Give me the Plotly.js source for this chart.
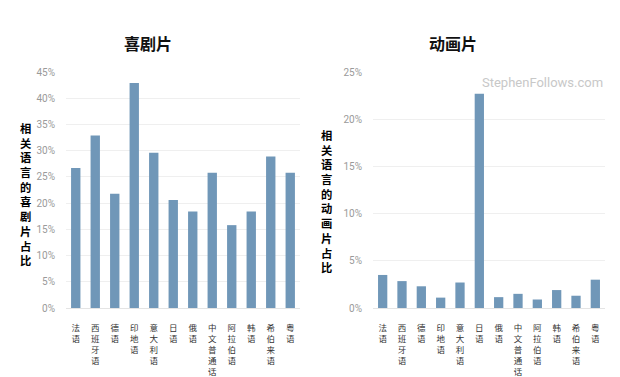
<!DOCTYPE html>
<html>
<head>
<meta charset="utf-8">
<script src="https://cdn.plot.ly/plotly-3.0.1.min.js"></script>
<style>html,body{margin:0;padding:0;background:#fff;}#chart{width:620px;height:377px;}</style>
</head>
<body>
<div id="chart"></div>
<script>
const languages = ["法语","西班牙语","德语","印地语","意大利语","日语","俄语","中文普通话","阿拉伯语","韩语","希伯来语","粤语"];
const comedyShare = [26.7, 32.9, 21.8, 42.9, 29.6, 20.6, 18.4, 25.8, 15.8, 18.4, 28.9, 25.8];
const animationShare = [3.5, 2.85, 2.3, 1.1, 2.7, 22.7, 1.15, 1.5, 0.9, 1.9, 1.3, 3.0];
const comedyTicks = [0,5,10,15,20,25,30,35,40,45];
const animationTicks = [0,5,10,15,20,25];
const leftTitle = "喜剧片";
const rightTitle = "动画片";
const leftYTitle = "相关语言的喜剧片占比";
const rightYTitle = "相关语言的动画片占比";
const watermark = "StephenFollows.com";

const barColor = "#7097b8";
const cjk = "'Noto Sans CJK SC', sans-serif";
const stacked = languages.map(s => s.split("").join("<br>"));
const vertical = s => "<b>" + s.split("").join("<br>") + "</b>";

const traces = [
  {type:"bar", x: languages, y: comedyShare, xaxis:"x", yaxis:"y", marker:{color:barColor}, hoverinfo:"none"},
  {type:"bar", x: languages, y: animationShare, xaxis:"x2", yaxis:"y2", marker:{color:barColor}, hoverinfo:"none"}
];

function xAxis(domain, anchor){
  return {domain: domain, anchor: anchor, tickmode:"array", tickvals: languages, ticktext: stacked,
    tickfont:{family:cjk, size:8.5, color:"#333"}, tickangle:0, showgrid:false, zeroline:false,
    showline:false, ticks:"", ticklabelstandoff:13, fixedrange:true};
}
function yAxis(domain, anchor, ticks, max){
  return {domain: domain, anchor: anchor, range:[0,max], tickmode:"array", tickvals: ticks,
    ticktext: ticks.map(t => t + "%"), tickfont:{family:"Roboto, sans-serif", size:10, color:"#9a9a9a"},
    showgrid:true, gridcolor:"#efefef", gridwidth:1, zeroline:true, zerolinecolor:"#e4e4e4",
    showline:false, ticks:"", ticklabelstandoff:10};
}

const annotations = [
  {text:"<b>"+leftTitle+"</b>", xref:"paper", yref:"paper", x:148/620, y:1-43/377, showarrow:false,
   font:{family:cjk, size:16, color:"#111"}, xanchor:"center", yanchor:"middle"},
  {text:"<b>"+rightTitle+"</b>", xref:"paper", yref:"paper", x:453/620, y:1-43/377, showarrow:false,
   font:{family:cjk, size:16, color:"#111"}, xanchor:"center", yanchor:"middle"},
  {text: watermark, xref:"x2 domain", yref:"y2 domain", x:1.0, y:0.955, showarrow:false,
   font:{family:"Roboto, sans-serif", size:13, color:"#c8c8c8"}, xanchor:"right", yanchor:"middle"},
  {text: vertical(leftYTitle), xref:"paper", yref:"paper", x:26/620, y:1-194/377, showarrow:false,
   font:{family:cjk, size:11.3, color:"#000"}, xanchor:"center", yanchor:"middle", align:"center"},
  {text: vertical(rightYTitle), xref:"paper", yref:"paper", x:327/620, y:1-201/377, showarrow:false,
   font:{family:cjk, size:11.3, color:"#000"}, xanchor:"center", yanchor:"middle", align:"center"}
];

const layout = {
  width:620, height:377, margin:{l:0,r:0,t:0,b:0}, showlegend:false,
  paper_bgcolor:"#fff", plot_bgcolor:"#fff", bargap:0.52,
  xaxis: xAxis([66/620, 300/620], "y"),
  yaxis: yAxis([69/377, 305/377], "x", comedyTicks, 45),
  xaxis2: xAxis([373/620, 605/620], "y2"),
  yaxis2: yAxis([69/377, 305/377], "x2", animationTicks, 25),
  annotations: annotations
};
Plotly.newPlot("chart", traces, layout, {staticPlot:true});
</script>
</body>
</html>
